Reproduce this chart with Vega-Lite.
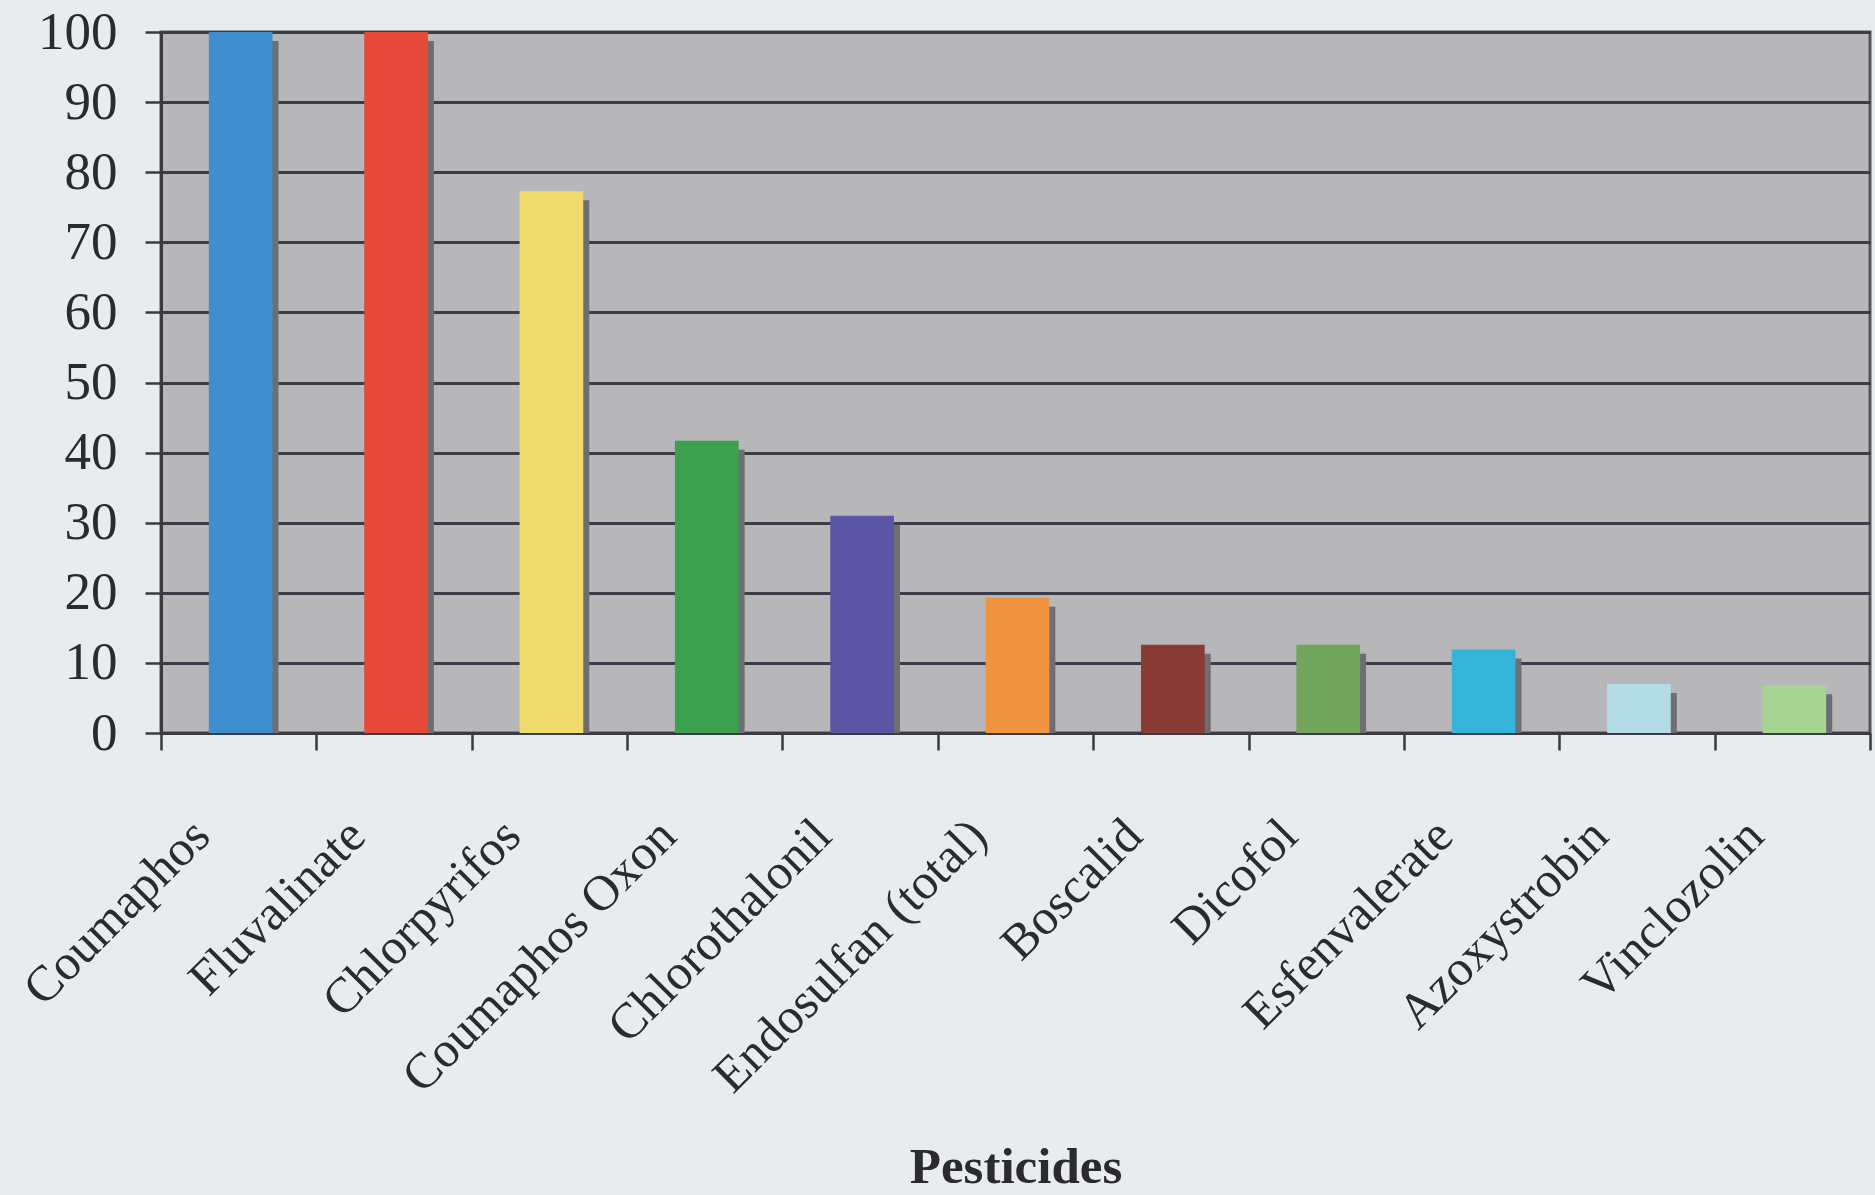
{
  "$schema": "https://vega.github.io/schema/vega-lite/v6.json",
  "width": 1709,
  "height": 701,
  "autosize": "none",
  "padding": {"left": 161, "top": 32, "right": 5, "bottom": 462},
  "background": "#E8ECEF",
  "config": {
    "view": {"fill": "#B7B7BA", "stroke": "#55555C", "strokeWidth": 3},
    "font": "Liberation Serif"
  },
  "data": {
    "values": [
      {"pesticide": "Coumaphos", "pct": 100},
      {"pesticide": "Fluvalinate", "pct": 100},
      {"pesticide": "Chlorpyrifos", "pct": 77.3},
      {"pesticide": "Coumaphos Oxon", "pct": 41.7},
      {"pesticide": "Chlorothalonil", "pct": 31},
      {"pesticide": "Endosulfan (total)", "pct": 19.3},
      {"pesticide": "Boscalid", "pct": 12.6},
      {"pesticide": "Dicofol", "pct": 12.6},
      {"pesticide": "Esfenvalerate", "pct": 11.9},
      {"pesticide": "Azoxystrobin", "pct": 7},
      {"pesticide": "Vinclozolin", "pct": 6.8}
    ]
  },
  "encoding": {
    "x": {
      "field": "pesticide",
      "type": "nominal",
      "sort": null,
      "scale": {"paddingInner": 0, "paddingOuter": 0},
      "axis": {
        "title": "Pesticides",
        "titleFont": "Liberation Serif",
        "titleFontSize": 51,
        "titleFontWeight": "bold",
        "titleColor": "#2A2A30",
        "titleY": 449,
        "titleBaseline": "alphabetic",
        "labelAngle": -45,
        "labelAlign": "right",
        "labelBaseline": "top",
        "labelFont": "Liberation Serif",
        "labelFontSize": 50,
        "labelColor": "#2A2A30",
        "labelOffset": -55,
        "labelPadding": 60,
        "labelLimit": 0,
        "tickBand": "extent",
        "tickSize": 17,
        "tickWidth": 2.5,
        "tickColor": "#3A3A42",
        "domainColor": "#3A3A42",
        "domainWidth": 3,
        "grid": false
      }
    },
    "y": {
      "field": "pct",
      "type": "quantitative",
      "scale": {"domain": [0, 100], "nice": false},
      "axis": {
        "title": null,
        "values": [0, 10, 20, 30, 40, 50, 60, 70, 80, 90, 100],
        "grid": true,
        "gridColor": "#3C3C48",
        "gridWidth": 3,
        "tickSize": 16,
        "tickWidth": 2.5,
        "tickColor": "#3A3A42",
        "domainColor": "#3A3A42",
        "domainWidth": 3,
        "labelFont": "Liberation Serif",
        "labelFontSize": 53,
        "labelColor": "#2A2A30",
        "labelPadding": 28,
        "labelBaseline": "middle"
      }
    }
  },
  "layer": [
    {
      "mark": {"type": "bar", "width": {"band": 0.41}, "color": "#6E6E72", "xOffset": 8, "yOffset": 9, "clip": true}
    },
    {
      "mark": {"type": "bar", "width": {"band": 0.41}, "xOffset": 2},
      "encoding": {
        "color": {
          "field": "pesticide",
          "type": "nominal",
          "scale": {
            "domain": ["Coumaphos", "Fluvalinate", "Chlorpyrifos", "Coumaphos Oxon", "Chlorothalonil", "Endosulfan (total)", "Boscalid", "Dicofol", "Esfenvalerate", "Azoxystrobin", "Vinclozolin"],
            "range": ["#3E8ED0", "#E4493A", "#EFDB6C", "#3BA14F", "#5A55A5", "#F09440", "#8A3B36", "#72A65C", "#35B4DA", "#B3DCE6", "#A5D493"]
          },
          "legend": null
        }
      }
    }
  ]
}
